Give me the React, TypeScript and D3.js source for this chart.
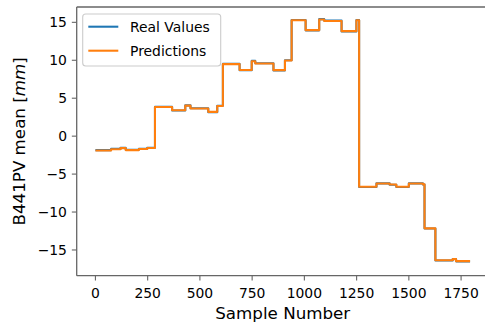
import React from "react";
import * as d3 from "d3";

// Step starts (sample number) and levels for each series
const stepStarts = [0, 75, 120, 145, 208, 248, 285, 367, 430, 455, 540, 583, 610, 690, 748, 765, 852, 907, 939, 1006, 1071, 1095, 1178, 1249, 1262, 1345, 1408, 1440, 1500, 1567, 1575, 1627, 1710, 1726];
const realLevels = [-1.84, -1.68, -1.55, -1.80, -1.66, -1.52, 3.88, 3.38, 4.06, 3.68, 3.16, 4.00, 9.52, 8.68, 9.92, 9.60, 8.66, 10.00, 15.30, 13.94, 15.42, 15.22, 13.80, 15.30, -6.70, -6.22, -6.41, -6.70, -6.22, -6.38, -12.18, -16.38, -16.18, -16.50];
const predLevels = [-1.88, -1.72, -1.58, -1.84, -1.70, -1.56, 3.85, 3.41, 4.02, 3.64, 3.20, 3.97, 9.49, 8.71, 9.88, 9.57, 8.70, 9.97, 15.27, 13.97, 15.38, 15.17, 13.84, 15.27, -6.67, -6.25, -6.38, -6.67, -6.25, -6.35, -12.15, -16.35, -16.21, -16.47];
const lastSample = 1793;

const xTicks = [0, 250, 500, 750, 1000, 1250, 1500, 1750];
const yTicks = [-15, -10, -5, 0, 5, 10, 15];
const seriesNames = ["Real Values", "Predictions"];
const seriesColors = ["#1f77b4", "#ff7f0e"];

const W = 485;
const H = 323;
const plot = { left: 76.7, right: 488.8, top: 7, bottom: 275.7 };
const FONT = "DejaVu Sans, sans-serif";
const SPINE = "#666666";

function toPoints(levels: number[]): [number, number][] {
  const pts: [number, number][] = stepStarts.map((s, i) => [s, levels[i]] as [number, number]);
  pts.push([lastSample, levels[levels.length - 1]]);
  return pts;
}

const fmt = (v: number) => (v < 0 ? "\u2212" + Math.abs(v) : String(v));

export default function App() {
  const real = toPoints(realLevels);
  const pred = toPoints(predLevels);
  const xMargin = (lastSample - 0) * 0.05;
  const x = d3.scaleLinear().domain([0 - xMargin, lastSample + xMargin]).range([plot.left, plot.right]);
  const y = d3.scaleLinear().domain([-18.39, 17.02]).range([plot.bottom, plot.top]);
  const line = d3
    .line<[number, number]>()
    .x((d) => x(d[0]))
    .y((d) => y(d[1]))
    .curve(d3.curveStepAfter);

  const tickLen = 4.86;
  const legend = { x: 82.7, y: 14, w: 138, h: 52 };

  return (
    <svg width={W} height={H} style={{ position: "fixed", left: 0, top: 0, background: "#fff" }} fontFamily={FONT}>
      <rect x={0} y={0} width={W} height={H} fill="#fff" />
      <defs>
        <clipPath id="clip">
          <rect x={plot.left} y={plot.top} width={plot.right - plot.left} height={plot.bottom - plot.top} />
        </clipPath>
      </defs>
      <g clipPath="url(#clip)">
        <path d={line(real) || ""} fill="none" stroke={seriesColors[0]} strokeWidth={2.08} strokeLinejoin="round" />
        <path d={line(pred) || ""} fill="none" stroke={seriesColors[1]} strokeWidth={2.08} strokeLinejoin="round" />
      </g>
      {/* spines */}
      <line x1={plot.left} x2={plot.left} y1={plot.top} y2={plot.bottom} stroke={SPINE} strokeWidth={1.3} />
      <line x1={plot.left} x2={plot.right} y1={plot.bottom} y2={plot.bottom} stroke={SPINE} strokeWidth={1.3} />
      <line x1={plot.left} x2={plot.right} y1={plot.top} y2={plot.top} stroke={SPINE} strokeWidth={1.3} />
      <line x1={plot.right} x2={plot.right} y1={plot.top} y2={plot.bottom} stroke={SPINE} strokeWidth={1.3} />
      {/* x ticks */}
      {xTicks.map((t) => (
        <g key={"x" + t}>
          <line x1={x(t)} x2={x(t)} y1={plot.bottom} y2={plot.bottom + tickLen} stroke={SPINE} strokeWidth={1.11} />
          <text x={x(t)} y={297.8} fontSize={13.9} textAnchor="middle" fill="#000">
            {fmt(t)}
          </text>
        </g>
      ))}
      {/* y ticks */}
      {yTicks.map((t) => (
        <g key={"y" + t}>
          <line x1={plot.left - tickLen} x2={plot.left} y1={y(t)} y2={y(t)} stroke={SPINE} strokeWidth={1.11} />
          <text x={plot.left - tickLen - 4.86} y={y(t) + 5.05} fontSize={13.9} textAnchor="end" fill="#000">
            {fmt(t)}
          </text>
        </g>
      ))}
      {/* axis labels */}
      <text x={(plot.left + plot.right) / 2} y={318.5} fontSize={16.7} textAnchor="middle" fill="#000">
        Sample Number
      </text>
      <text
        transform={`translate(25, ${(plot.top + plot.bottom) / 2}) rotate(-90)`}
        fontSize={16.7}
        textAnchor="middle"
        fill="#000"
      >
        B441PV mean [<tspan fontStyle="italic">mm</tspan>]
      </text>
      {/* legend */}
      <rect
        x={legend.x}
        y={legend.y}
        width={legend.w}
        height={legend.h}
        rx={3}
        ry={3}
        fill="#fff"
        fillOpacity={0.8}
        stroke="#cccccc"
        strokeWidth={1.11}
      />
      {seriesNames.map((name, i) => (
        <g key={name}>
          <line x1={88.3} x2={118.3} y1={26.7 + i * 24} y2={26.7 + i * 24} stroke={seriesColors[i]} strokeWidth={2.08} />
          <text x={130} y={26.7 + i * 24 + 5.1} fontSize={13.9} fill="#000">
            {name}
          </text>
        </g>
      ))}
    </svg>
  );
}
